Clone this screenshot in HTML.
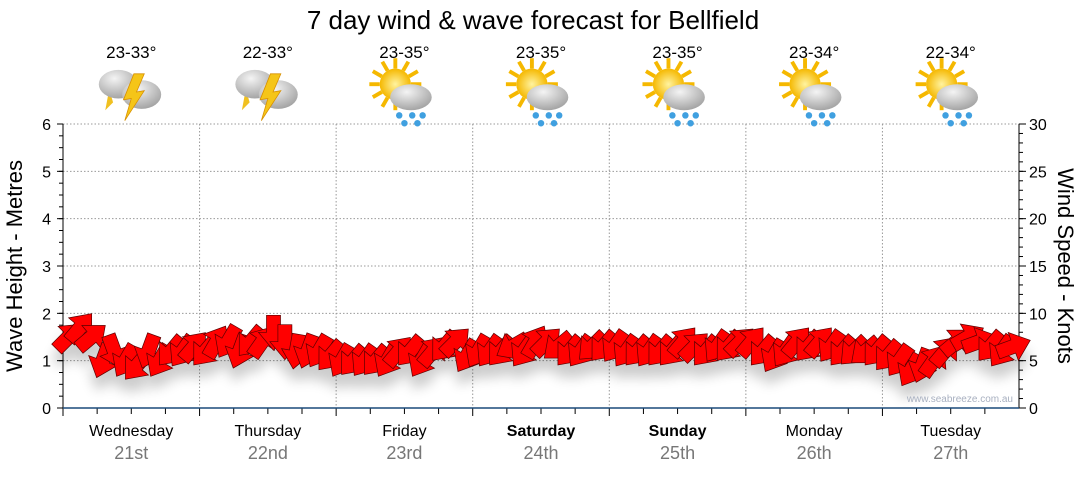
<!DOCTYPE html>
<html><head><meta charset="utf-8"><style>
body{margin:0;background:#fff;width:1080px;height:475px;overflow:hidden;font-family:"Liberation Sans","DejaVu Sans",sans-serif}
</style></head><body>
<svg id="c" width="1080" height="475" xmlns="http://www.w3.org/2000/svg" font-family="Liberation Sans, DejaVu Sans, sans-serif">
<defs>
<filter id="sh" x="-20%" y="-50%" width="140%" height="250%">
<feGaussianBlur in="SourceAlpha" stdDeviation="6"/>
<feOffset dy="13"/>
<feComponentTransfer><feFuncA type="linear" slope="0.2"/></feComponentTransfer>
<feMerge><feMergeNode/><feMergeNode in="SourceGraphic"/></feMerge>
</filter>
<radialGradient id="cg" cx="0.4" cy="0.3" r="0.8"><stop offset="0" stop-color="#f4f4f4"/><stop offset="1" stop-color="#9a9a9a"/></radialGradient>
<radialGradient id="sg" cx="0.5" cy="0.5" r="0.5"><stop offset="0" stop-color="#fff3a0"/><stop offset="1" stop-color="#f5b800"/></radialGradient>
</defs>
<text x="533" y="29" font-size="26" text-anchor="middle" fill="#000">7 day wind &amp; wave forecast for Bellfield</text>
<g id="grid"></g>
<g id="axes"></g>
<g id="icons"></g>
<g id="arrows" filter="url(#sh)"></g>
<text transform="translate(22,266) rotate(-90)" font-size="22" text-anchor="middle">Wave Height - Metres</text>
<text transform="translate(1058,266) rotate(90)" font-size="22" text-anchor="middle">Wind Speed - Knots</text>
<text x="1013" y="402" font-size="10" fill="#a8b0c0" text-anchor="end">www.seabreeze.com.au</text>
</svg>
<script>
const days=["Wednesday","Thursday","Friday","Saturday","Sunday","Monday","Tuesday"];
const dates=["21st","22nd","23rd","24th","25th","26th","27th"];
const temps=["23-33°","22-33°","23-35°","23-35°","23-35°","23-34°","22-34°"];
const icons=["storm","storm","sunrain","sunrain","sunrain","sunrain","sunrain"];
const boldDays=[false,false,false,true,true,false,false];
const waveTicks=[0,1,2,3,4,5,6];
const windTicks=[0,5,10,15,20,25,30];
// wind speed (knots) every 2 hours
const windSpeed=[7.5,8.5,7.5,5,6,5,4.5,6,5,6,6,6.5,
6,7,7,6,7,7,8,7,6,6,6,5.5,
5,5,5,5,5,6,6,5,6,6.5,7,5.5,
6,6,6,6.5,6,7,7,6.5,6,6,6.5,6.5,
6.5,6,6,6,6,6,7,6.5,6,6.5,6.5,7,
7,6,5.5,6,7,6.5,7,6.5,6,6,6,6,
5.5,5,4,4.5,5,6,7,7.5,7,6.5,6,6.5];
// arrow pointing bearing (deg, 0=up, 90=right, 180=down)
const windDir=[45,40,50,200,160,210,220,200,210,220,215,40,
220,30,210,200,220,35,180,180,190,200,210,220,
210,220,215,220,210,40,220,210,40,220,45,210,
210,215,220,240,215,30,45,230,220,215,225,220,
215,215,220,215,220,220,40,45,220,215,220,45,
40,220,210,215,40,220,40,215,220,225,230,220,
220,215,210,200,35,40,50,60,70,220,215,70];
const X0=63,X1=1019,Y0=408,Y1=124;
const dayW=(X1-X0)/7;
const ns="http://www.w3.org/2000/svg";
function el(t,a,p){const e=document.createElementNS(ns,t);for(const k in a)e.setAttribute(k,a[k]);p.appendChild(e);return e;}
const yWave=v=>Y0-(v/6)*(Y0-Y1);
const yWind=v=>Y0-(v/30)*(Y0-Y1);
const xHour=h=>X0+h/168*(X1-X0);
const grid=document.getElementById('grid'),axes=document.getElementById('axes'),icG=document.getElementById('icons'),arG=document.getElementById('arrows');
waveTicks.forEach(v=>{if(v>0){const l=el('line',{x1:X0,x2:X1,y1:yWave(v),y2:yWave(v),stroke:'#999','stroke-dasharray':'1.5,2','stroke-width':1},grid);
}
const t=el('text',{x:X0-12,y:yWave(v)+6,'font-size':16,'text-anchor':'end'},axes);t.textContent=v;

el('line',{x1:X0-6,x2:X0,y1:yWave(v),y2:yWave(v),stroke:'#000'},axes);
});
for(let i=0;i<=24;i++){const y=Y0-i*(Y0-Y1)/24;el('line',{x1:X0-4,x2:X0,y1:y,y2:y,stroke:'#000'},axes);}
windTicks.forEach(v=>{const t=el('text',{x:X1+10,y:yWind(v)+6,'font-size':16},axes);t.textContent=v;

el('line',{x1:X1,x2:X1+7,y1:yWind(v),y2:yWind(v),stroke:'#000'},axes);});
for(let i=0;i<=30;i++){const y=yWind(i);el('line',{x1:X1,x2:X1+4,y1:y,y2:y,stroke:'#000'},axes);}
el('line',{x1:X0,x2:X0,y1:Y1,y2:Y0,stroke:'#000'},axes);
el('line',{x1:X1,x2:X1,y1:Y1,y2:Y0,stroke:'#000'},axes);
for(let d=0;d<7;d++){
 const xs=X0+d*dayW,xc=xs+dayW/2;
 if(d>0){const l=el('line',{x1:xs,x2:xs,y1:Y1,y2:Y0,stroke:'#999','stroke-dasharray':'1.5,2'},grid);}
 for(let q=0;q<4;q++){const x=xs+q*dayW/4;el('line',{x1:x,x2:x,y1:Y0,y2:Y0+(q==0?8:6),stroke:'#000'},axes);}
 const t1=el('text',{x:xc,y:436,'font-size':16,'text-anchor':'middle','font-weight':boldDays[d]?'bold':'normal'},axes);t1.textContent=days[d];
 
 const t2=el('text',{x:xc,y:459,'font-size':18,'text-anchor':'middle',fill:'#777'},axes);t2.textContent=dates[d];
 
 const t3=el('text',{x:xc,y:58,'font-size':17,'text-anchor':'middle'},icG);t3.textContent=temps[d];
 
 const g=el('g',{transform:`translate(${xc},92) scale(1.3)`},icG);
 
 if(icons[d]=="storm"){
  el('path',{d:'M-17,-2 L-20,14 L-14,8 Z',fill:'#f0c020'},g);
  el('ellipse',{cx:-10,cy:-6,rx:15,ry:11,fill:'url(#cg)'},g);
  el('ellipse',{cx:8,cy:2,rx:15,ry:11,fill:'url(#cg)'},g);
  el('path',{d:'M2,-14 L-6,6 L0,5 L-5,22 L10,-1 L4,0 L10,-14 Z',fill:'#f5c518',stroke:'#d89000','stroke-width':0.6},g);
 }else{
  for(let r=0;r<12;r++){const a=r*30*Math.PI/180;el('line',{x1:-7+Math.cos(a)*12,y1:-6+Math.sin(a)*12,x2:-7+Math.cos(a)*20,y2:-6+Math.sin(a)*20,stroke:'#f5b800','stroke-width':3},g);}
  el('circle',{cx:-7,cy:-6,r:12,fill:'url(#sg)'},g);
  el('ellipse',{cx:5,cy:4,rx:16,ry:10,fill:'url(#cg)'},g);
  [[-4,18],[6,18],[14,18],[0,24],[10,24]].forEach(p=>el('circle',{cx:p[0],cy:p[1],r:2.5,fill:'#40a0e0'},g));
 }
}
el('line',{x1:X0,x2:X1,y1:Y0,y2:Y0,stroke:'#1a4a7a','stroke-width':1.5},axes);
const shape="-17,-7 0,-7 0,-15 18,0 0,15 0,7 -17,7";
windSpeed.forEach((s,i)=>{
 const x=xHour(i*2+1),y=yWind(s);
 const p=el('polygon',{points:shape,fill:'#ff0000',stroke:'#5a0000','stroke-width':0.7,transform:`translate(${x.toFixed(1)},${y.toFixed(1)}) rotate(${windDir[i]-90})`},arG);
 
 
});
</script>
</body></html>
